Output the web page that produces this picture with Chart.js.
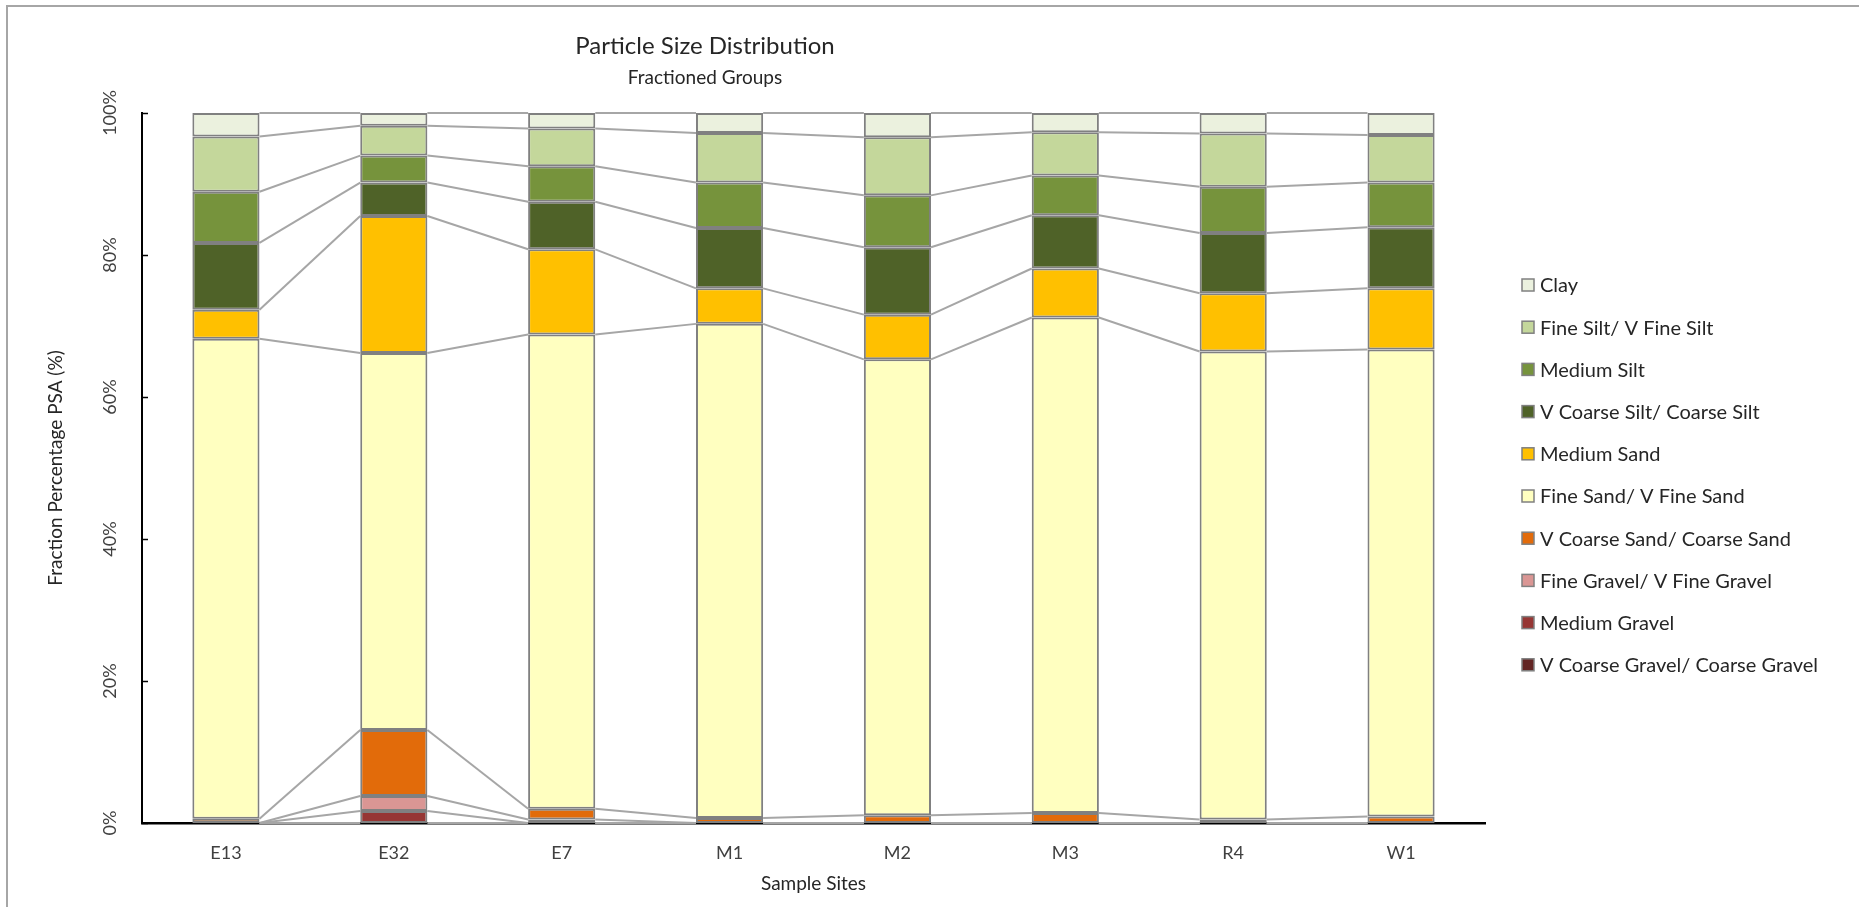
<!DOCTYPE html>
<html>
<head>
<meta charset="utf-8">
<title>Particle Size Distribution</title>
<script src="https://cdn.jsdelivr.net/npm/chart.js@4.4.1/dist/chart.umd.min.js"></script>
<style>
  html, body { margin: 0; padding: 0; background: #ffffff; overflow: hidden; }
  #wrap { width: 1859px; height: 907px; position: relative; }
</style>
</head>
<body>
<div id="wrap"><canvas id="psd" width="1859" height="907"></canvas></div>
<script>
// Sample sites along the category axis
const sites = ['E13', 'E32', 'E7', 'M1', 'M2', 'M3', 'R4', 'W1'];

// Fraction percentages per size group (stacked bottom to top)
const vCoarseGravel = [0, 0, 0, 0, 0, 0, 0, 0];
const mediumGravel  = [0, 1.7, 0, 0, 0, 0, 0, 0];
const fineGravel    = [0, 2.1, 0.5, 0, 0, 0, 0, 0];
const vCoarseSand   = [0.6, 9.3, 1.5, 0.7, 1.1, 1.4, 0.5, 0.9];
const fineSand      = [67.6, 53.1, 66.8, 69.6, 64.2, 69.8, 65.9, 65.8];
const mediumSand    = [4.1, 19.3, 12.0, 5.0, 6.3, 6.9, 8.2, 8.6];
const vCoarseSilt   = [9.4, 4.7, 6.7, 8.5, 9.5, 7.5, 8.5, 8.6];
const mediumSilt    = [7.2, 3.8, 5.0, 6.4, 7.3, 5.6, 6.5, 6.3];
const fineSilt      = [7.8, 4.2, 5.3, 7.0, 8.2, 6.1, 7.5, 6.7];
const clay          = [3.3, 1.8, 2.2, 2.8, 3.4, 2.7, 2.9, 3.1];

// Value axis ticks
const yTickValues = [0, 20, 40, 60, 80, 100];

// Group names, in stacking order
const groupNames = [
  'V Coarse Gravel/ Coarse Gravel', 'Medium Gravel', 'Fine Gravel/ V Fine Gravel',
  'V Coarse Sand/ Coarse Sand', 'Fine Sand/ V Fine Sand', 'Medium Sand',
  'V Coarse Silt/ Coarse Silt', 'Medium Silt', 'Fine Silt/ V Fine Silt', 'Clay'
];
const groupValues = [
  vCoarseGravel, mediumGravel, fineGravel, vCoarseSand, fineSand,
  mediumSand, vCoarseSilt, mediumSilt, fineSilt, clay
];
const groupColors = [
  '#632523', '#963634', '#da9694', '#e26b0a', '#ffffc0',
  '#ffc000', '#4f6228', '#76933c', '#c4d79b', '#ebf1de'
];

const FONT = 'Lato, "Open Sans", sans-serif';
const TEXT = '#262626';
const EDGE = '#808080';

const datasets = groupNames.map((name, i) => ({
  label: name,
  data: groupValues[i],
  backgroundColor: groupColors[i],
  borderColor: EDGE,
  borderWidth: 2,
  borderSkipped: false,
  inflateAmount: 0,
  barPercentage: 0.4,
  categoryPercentage: 1
}));

// White chart area with a thin grey frame
const framePlugin = {
  id: 'frame',
  beforeDraw(chart) {
    const ctx = chart.ctx;
    ctx.save();
    ctx.fillStyle = '#ffffff';
    ctx.fillRect(0, 0, chart.width, chart.height);
    ctx.strokeStyle = '#a6a6a6';
    ctx.lineWidth = 2;
    ctx.strokeRect(7, 6, chart.width + 20, chart.height + 20);
    ctx.restore();
  }
};

// Series lines joining the top of each segment to the same segment of the next bar
const seriesLinesPlugin = {
  id: 'seriesLines',
  beforeDatasetsDraw(chart) {
    const ctx = chart.ctx;
    ctx.save();
    ctx.strokeStyle = '#a6a6a6';
    ctx.lineWidth = 2;
    chart.data.datasets.forEach((ds, di) => {
      const meta = chart.getDatasetMeta(di);
      for (let i = 0; i < meta.data.length - 1; i++) {
        const a = meta.data[i].getProps(['x', 'y', 'width'], true);
        const b = meta.data[i + 1].getProps(['x', 'y', 'width'], true);
        ctx.beginPath();
        ctx.moveTo(a.x + a.width / 2, a.y);
        ctx.lineTo(b.x - b.width / 2, b.y);
        ctx.stroke();
      }
    });
    ctx.restore();
  }
};

// Inward tick marks on the value axis
const innerTicksPlugin = {
  id: 'innerTicks',
  afterDraw(chart) {
    const ctx = chart.ctx;
    const y = chart.scales.y;
    ctx.save();
    ctx.strokeStyle = '#000000';
    ctx.lineWidth = 1.5;
    yTickValues.forEach(v => {
      const py = Math.round(y.getPixelForValue(v)) + 0.5;
      ctx.beginPath();
      ctx.moveTo(chart.chartArea.left, py);
      ctx.lineTo(chart.chartArea.left + 6, py);
      ctx.stroke();
    });
    ctx.restore();
  }
};

// Heading and sub-heading
const headingPlugin = {
  id: 'heading',
  afterDraw(chart) {
    const ctx = chart.ctx;
    ctx.save();
    ctx.fillStyle = TEXT;
    ctx.textAlign = 'center';
    ctx.textBaseline = 'middle';
    ctx.font = '24px ' + FONT;
    ctx.fillText('Particle Size Distribution', 705, 46);
    ctx.font = '19px ' + FONT;
    ctx.fillText('Fractioned Groups', 705, 78);
    ctx.restore();
  }
};

// Legend listed top to bottom, Clay first
const sideLegendPlugin = {
  id: 'sideLegend',
  afterDraw(chart) {
    const ctx = chart.ctx;
    const x0 = 1522, y0 = 285, step = 42.2, box = 12;
    ctx.save();
    ctx.font = '20px ' + FONT;
    ctx.textBaseline = 'middle';
    ctx.textAlign = 'left';
    const order = chart.data.datasets.map((d, i) => i).reverse();
    order.forEach((di, k) => {
      const ds = chart.data.datasets[di];
      const cy = y0 + k * step;
      ctx.fillStyle = ds.backgroundColor;
      ctx.fillRect(x0, cy - box / 2, box, box);
      ctx.strokeStyle = EDGE;
      ctx.lineWidth = 1.5;
      ctx.strokeRect(x0, cy - box / 2, box, box);
      ctx.fillStyle = TEXT;
      ctx.fillText(ds.label, x0 + 18, cy + 1);
    });
    ctx.restore();
  }
};

function draw() {
  new Chart(document.getElementById('psd'), {
    type: 'bar',
    data: { labels: sites, datasets },
    options: {
      responsive: false,
      animation: false,
      events: [],
      layout: { padding: { top: 113, right: 374, bottom: 0, left: 0 } },
      plugins: {
        legend: { display: false },
        title: { display: false },
        tooltip: { enabled: false }
      },
      scales: {
        x: {
          stacked: true,
          grid: { display: false, drawTicks: false },
          border: { display: true, color: '#000000', width: 2.5 },
          ticks: { color: '#404040', font: { family: FONT, size: 18 }, padding: 19 },
          title: {
            display: true, text: 'Sample Sites', color: TEXT,
            font: { family: FONT, size: 19 }, padding: { top: 0, bottom: 12 }
          },
          afterFit(s) { s.height = 84; }
        },
        y: {
          stacked: true,
          min: 0, max: 100,
          afterBuildTicks(s) { s.ticks = yTickValues.map(v => ({ value: v })); },
          grid: { display: false, drawTicks: false },
          border: { display: true, color: '#000000', width: 2 },
          ticks: {
            color: '#404040', font: { family: FONT, size: 18 },
            minRotation: 90, maxRotation: 90, crossAlign: 'center', padding: 9,
            callback: v => v + '%'
          },
          title: {
            display: true, text: 'Fraction Percentage PSA (%)', color: TEXT,
            font: { family: FONT, size: 19 }, padding: { top: 44, bottom: 0 }
          },
          afterFit(s) { s.width = 142; }
        }
      }
    },
    plugins: [framePlugin, seriesLinesPlugin, innerTicksPlugin, headingPlugin, sideLegendPlugin]
  });
}

if (document.fonts && document.fonts.load) {
  Promise.all([document.fonts.load('18px Lato'), document.fonts.load('24px Lato')])
    .then(draw, draw);
} else {
  draw();
}
</script>
</body>
</html>
